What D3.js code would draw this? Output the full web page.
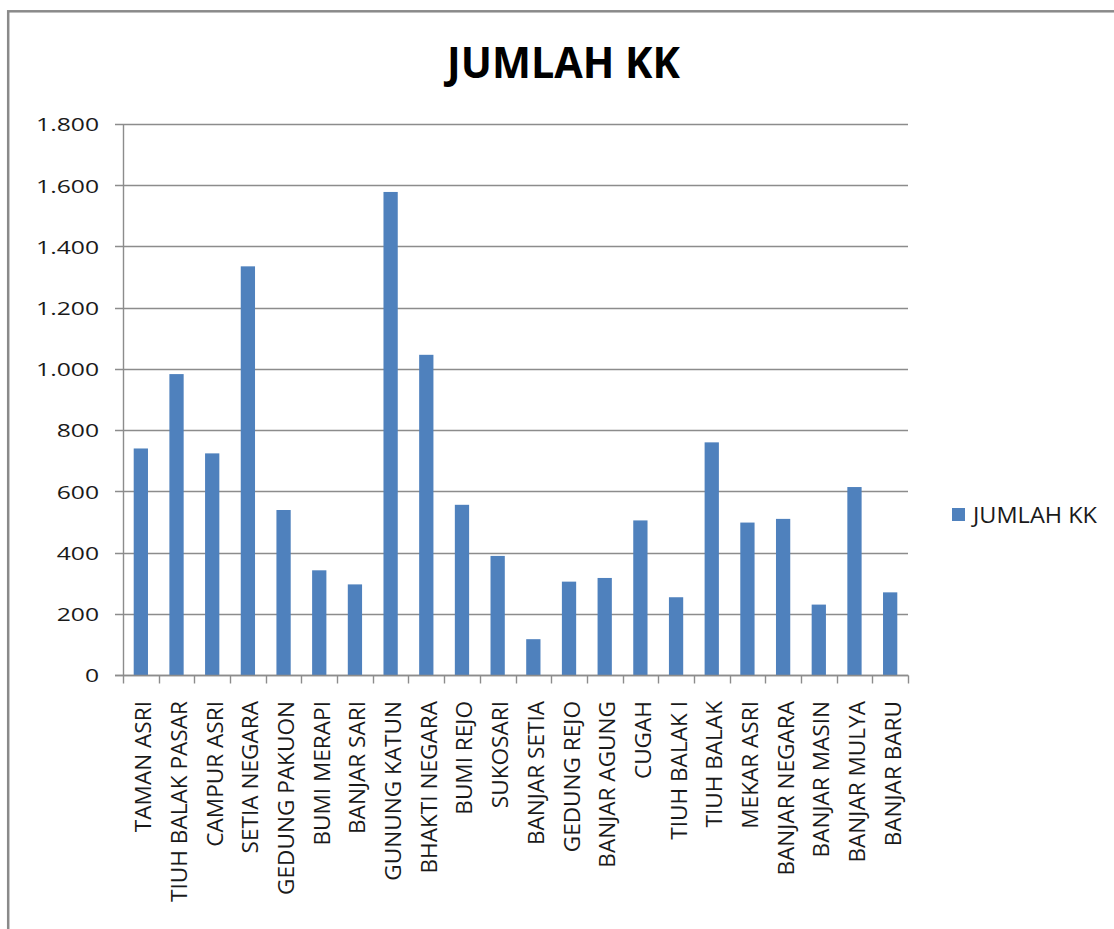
<!DOCTYPE html>
<html>
<head>
<meta charset="utf-8">
<script src="https://cdn.jsdelivr.net/npm/d3@7"></script>
<style>
  html, body { margin: 0; padding: 0; background: #fff; }
  svg { display: block; }
</style>
</head>
<body>
<script>
const categories = ["TAMAN ASRI","TIUH BALAK PASAR","CAMPUR ASRI","SETIA NEGARA","GEDUNG PAKUON","BUMI MERAPI","BANJAR SARI","GUNUNG KATUN","BHAKTI NEGARA","BUMI REJO","SUKOSARI","BANJAR SETIA","GEDUNG REJO","BANJAR AGUNG","CUGAH","TIUH BALAK I","TIUH BALAK","MEKAR ASRI","BANJAR NEGARA","BANJAR MASIN","BANJAR MULYA","BANJAR BARU"];
const jumlahKK = [740,983,724,1335,539,342,296,1578,1046,556,389,117,305,317,505,254,760,498,510,230,614,270];
const yTicks = [0,200,400,600,800,1000,1200,1400,1600,1800];
const tickLabels = ["0","200","400","600","800","1.000","1.200","1.400","1.600","1.800"];
const seriesName = "JUMLAH KK";
const title = "JUMLAH KK";

const W = 1114, H = 929;
const svg = d3.select("body").append("svg").attr("width", W).attr("height", H);

// outer frame
svg.append("rect").attr("x", 8.2).attr("y", 11.3).attr("width", 1300).attr("height", 1100)
  .attr("fill", "#fff").attr("stroke", "#8a8a8a").attr("stroke-width", 2.5);

const x = d3.scaleBand().domain(categories).range([123, 908]).padding(0);
const y = d3.scaleLinear().domain([0, 1800]).range([675, 124]);

const gridColor = "#8c8c8c";

// gridlines
svg.append("g").selectAll("line").data(yTicks).join("line")
  .attr("x1", 115).attr("x2", 908)
  .attr("y1", d => Math.round(y(d)) + 0.5).attr("y2", d => Math.round(y(d)) + 0.5)
  .attr("stroke", gridColor).attr("stroke-width", 1.4);

// y axis
const yAxis = svg.append("g").attr("transform", "translate(123.5,0)")
  .call(d3.axisLeft(y).tickValues(yTicks).tickFormat((d, i) => tickLabels[i]).tickSize(0).tickPadding(0));
yAxis.select(".domain").remove();
yAxis.selectAll("text")
  .attr("x", 0).attr("dy", "0.36em")
  .attr("transform", "translate(-24.5,0) scale(1.3,1)")
  .style("font-family", "'Open Sans', sans-serif").style("font-size", "19px").attr("fill", "#1a1a1a");
svg.append("line").attr("x1", 123.5).attr("x2", 123.5).attr("y1", 124).attr("y2", 676)
  .attr("stroke", gridColor).attr("stroke-width", 1.4);

// bars
const bw = x.bandwidth() * 0.4;
svg.append("g").selectAll("rect").data(categories).join("rect")
  .attr("x", (d) => x(d) + x.bandwidth() / 2 - bw / 2)
  .attr("width", bw)
  .attr("y", (d, i) => y(jumlahKK[i]))
  .attr("height", (d, i) => y(0) - y(jumlahKK[i]))
  .attr("fill", "#4F81BD");

// x axis
const xAxis = svg.append("g").attr("transform", "translate(0,675.5)")
  .call(d3.axisBottom(x).tickSize(0).tickFormat(""));
xAxis.select(".domain").attr("stroke", gridColor).attr("stroke-width", 1.4).attr("d", "M115,0H908.5");
xAxis.selectAll(".tick").remove();
const bounds = [...categories.map(c => x(c)), 908];
xAxis.append("g").selectAll("line").data(bounds).join("line")
  .attr("x1", d => Math.round(d) + 0.5).attr("x2", d => Math.round(d) + 0.5)
  .attr("y1", 0).attr("y2", 8).attr("stroke", gridColor).attr("stroke-width", 1.4);

// category labels
svg.append("g").selectAll("text").data(categories).join("text")
  .attr("transform", d => `translate(${x(d) + x.bandwidth() / 2 + 10.5},701) rotate(-90)`)
  .attr("text-anchor", "end")
  .style("font-family", "'Open Sans', sans-serif").style("font-size", "22.6px").attr("fill", "#1a1a1a")
  .text(d => d);

// title
svg.append("text").attr("x", 563.5).attr("y", 78).attr("text-anchor", "middle")
  .attr("textLength", 233).attr("lengthAdjust", "spacingAndGlyphs")
  .style("font-family", "'Open Sans', sans-serif").style("font-weight", "bold").style("font-size", "43px")
  .attr("fill", "#000").text(title);

// legend
svg.append("rect").attr("x", 952).attr("y", 508).attr("width", 13).attr("height", 13).attr("fill", "#4F81BD");
svg.append("text").attr("x", 973).attr("y", 522.5)
  .attr("textLength", 124).attr("lengthAdjust", "spacingAndGlyphs")
  .style("font-family", "'Open Sans', sans-serif").style("font-size", "22px").attr("fill", "#1a1a1a")
  .text(seriesName);
</script>
</body>
</html>
